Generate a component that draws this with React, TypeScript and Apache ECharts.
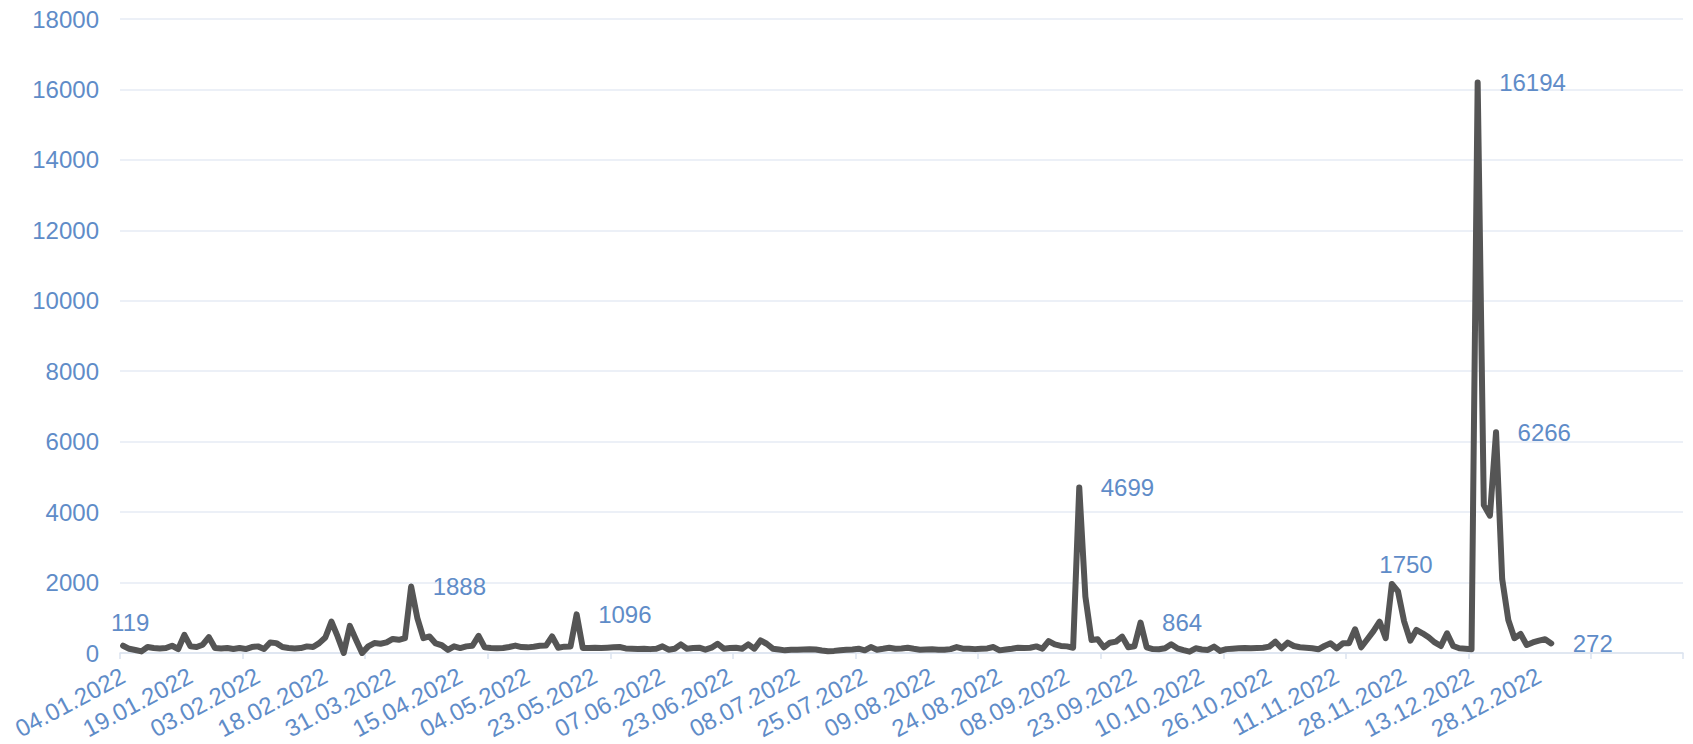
import React, { useEffect, useRef } from "react";
import * as echarts from "echarts";

// Trading days per month (2022)
const tradingDays: [number, number[]][] = [
  [1, [4, 5, 6, 7, 10, 11, 12, 13, 14, 17, 18, 19, 20, 21, 24, 25, 26, 27, 28, 31]],
  [2, [1, 2, 3, 4, 7, 8, 9, 10, 11, 14, 15, 16, 17, 18, 21, 22, 23, 24, 25]],
  [3, [24, 25, 28, 29, 30, 31]],
  [4, [1, 4, 5, 6, 7, 8, 11, 12, 13, 14, 15, 18, 19, 20, 21, 22, 25, 26, 27, 28, 29]],
  [5, [4, 5, 6, 11, 12, 13, 16, 17, 18, 19, 20, 23, 24, 25, 26, 27, 30, 31]],
  [6, [1, 2, 3, 6, 7, 8, 9, 10, 14, 15, 16, 17, 20, 21, 22, 23, 24, 27, 28, 29, 30]],
  [7, [1, 4, 5, 6, 7, 8, 11, 12, 13, 14, 15, 18, 19, 20, 21, 22, 25, 26, 27, 28, 29]],
  [8, [1, 2, 3, 4, 5, 8, 9, 10, 11, 12, 15, 16, 17, 18, 19, 22, 23, 24, 25, 26, 29, 30, 31]],
  [9, [1, 2, 5, 6, 7, 8, 9, 12, 13, 14, 15, 16, 19, 20, 21, 22, 23, 26, 27, 28, 29, 30]],
  [10, [3, 4, 5, 6, 7, 10, 11, 12, 13, 17, 18, 19, 20, 21, 24, 25, 26, 27, 28, 31]],
  [11, [1, 2, 3, 7, 8, 9, 10, 11, 14, 15, 16, 17, 18, 21, 22, 23, 24, 25, 28, 29, 30]],
  [12, [1, 2, 5, 6, 7, 8, 9, 12, 13, 14, 15, 16, 19, 20, 21, 22, 23, 26, 27, 28, 29, 30]],
];

const pad2 = (n: number) => (n < 10 ? "0" + n : "" + n);
const dates: string[] = [];
tradingDays.forEach(([m, days]) => days.forEach((d) => dates.push(`${pad2(d)}.${pad2(m)}.2022`)));

// Empty slots at the end of the axis
const emptySlots = 21;
const categories = dates.concat(Array(emptySlots).fill(""));

const values: number[] = [
  206, 119, 85, 45, 169, 140, 130, 140, 206, 113,
  516, 188, 169, 235, 450, 140, 130, 140, 113, 140,
  113, 169, 188, 113, 300, 280, 169, 140, 130, 140,
  188, 169, 280, 441, 892, 470, 0, 770, 375, 0,
  188, 282, 263, 300, 400, 375, 423, 1888, 1000, 423,
  470, 270, 220, 90, 188, 140, 188, 206, 488, 160,
  140, 135, 140, 170, 210, 169, 160, 180, 206, 210,
  470, 150, 180, 188, 1096, 140, 140, 150, 140, 150,
  160, 169, 130, 122, 115, 122, 110, 122, 188, 94,
  122, 244, 122, 140, 150, 94, 150, 263, 122, 140,
  150, 122, 244, 122, 357, 263, 122, 100, 75, 90,
  94, 100, 105, 100, 70, 47, 60, 80, 90, 100,
  122, 75, 169, 94, 120, 150, 122, 130, 150, 120,
  94, 100, 105, 94, 90, 110, 169, 122, 122, 110,
  122, 130, 169, 75, 100, 122, 150, 140, 150, 188,
  122, 338, 244, 200, 188, 150, 4699, 1600, 370, 390,
  162, 293, 322, 465, 162, 190, 864, 162, 110, 105,
  133, 246, 133, 80, 38, 133, 100, 86, 180, 57,
  110, 120, 133, 140, 133, 140, 150, 180, 322, 133,
  293, 199, 162, 150, 133, 105, 199, 275, 133, 275,
  275, 673, 162, 390, 620, 890, 418, 1962, 1750, 900,
  350, 654, 560, 446, 300, 199, 560, 199, 133, 120,
  105, 16194, 4200, 3900, 6266, 2100, 938, 418, 540, 227,
  300, 350, 390, 272,
];

// Points whose values are written on the chart
const labelsRight: number[] = [47, 74, 156, 166, 221, 224, 233];
const labelsTop: number[] = [1, 208];

const BLUE = "#5f8cc8";
const FONT = "'Liberation Sans', Arial, sans-serif";
const FS = 24;

export default function App() {
  const ref = useRef<HTMLDivElement>(null);
  useEffect(() => {
    if (!ref.current) return;
    const chart = echarts.init(ref.current, undefined, { renderer: "svg" });
    const seriesData = values.map((v, i) => {
      if (labelsRight.includes(i)) {
        return {
          value: v,
          label: { show: true, position: "right", distance: 21, color: BLUE, fontSize: FS, fontFamily: FONT },
        };
      }
      if (labelsTop.includes(i)) {
        return {
          value: v,
          label: {
            show: true,
            position: "top",
            distance: 14,
            offset: i === 208 ? [8, 0] : [1, 0],
            color: BLUE,
            fontSize: FS,
            fontFamily: FONT,
          },
        };
      }
      return v;
    });
    chart.setOption({
      animation: false,
      grid: { left: 120, right: 10, top: 19, bottom: 91, containLabel: false, outerBoundsMode: "none" },
      xAxis: {
        type: "category",
        data: categories,
        boundaryGap: true,
        axisLine: { show: true, lineStyle: { color: "#dbe3ef", width: 1.5 } },
        axisTick: { show: true, interval: 19, length: 6, lineStyle: { color: "#dbe3ef", width: 1.5 } },
        axisLabel: {
          interval: 10,
          rotate: 28,
          margin: 21,
          color: BLUE,
          fontSize: 24,
          fontFamily: FONT,
        },
        splitLine: { show: false },
      },
      yAxis: {
        type: "value",
        min: 0,
        max: 18000,
        interval: 2000,
        axisLine: { show: false },
        axisTick: { show: false },
        axisLabel: {
          margin: 21,
          color: BLUE,
          fontSize: FS,
          fontFamily: FONT,
          formatter: (v: number) => String(v),
        },
        splitLine: { lineStyle: { color: "#e6ebf4", width: 1.5 } },
      },
      series: [
        {
          type: "line",
          data: seriesData,
          symbol: "circle",
          symbolSize: 1,
          showSymbol: true,
          showAllSymbol: true,
          itemStyle: { color: "#555555" },
          lineStyle: { color: "#555555", width: 6, cap: "round", join: "round" },
          emphasis: { disabled: true },
          label: { show: false },
        },
      ],
    });
    return () => chart.dispose();
  }, []);
  return (
    <div
      ref={ref}
      style={{ position: "fixed", left: 0, top: 0, width: 1693, height: 744, background: "#fff" }}
    />
  );
}
